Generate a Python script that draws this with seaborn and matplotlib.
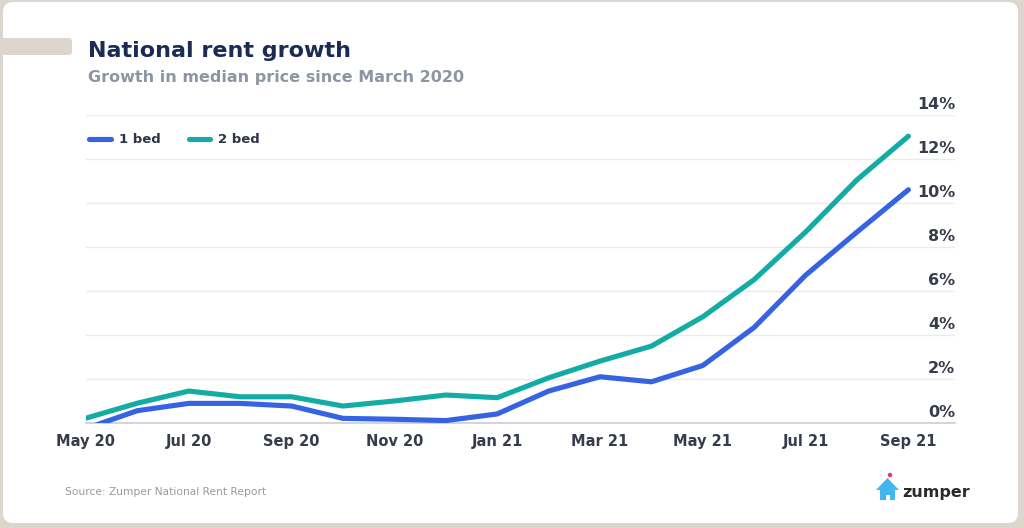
import matplotlib
matplotlib.use("Agg")
import matplotlib.pyplot as plt
import matplotlib.transforms as mtransforms
from matplotlib.patches import FancyBboxPatch, Polygon, Circle, Rectangle
import seaborn as sns
import pandas as pd

# ---- data ----
months = ["May 20", "Jun 20", "Jul 20", "Aug 20", "Sep 20", "Oct 20", "Nov 20", "Dec 20",
          "Jan 21", "Feb 21", "Mar 21", "Apr 21", "May 21", "Jun 21", "Jul 21", "Aug 21", "Sep 21"]
one_bed = [-0.25, 0.56, 0.89, 0.89, 0.77, 0.21, 0.17, 0.11, 0.41, 1.45, 2.10, 1.87, 2.61, 4.34, 6.71, 8.67, 10.59]
two_bed = [0.22, 0.90, 1.45, 1.19, 1.19, 0.77, 1.00, 1.27, 1.15, 2.05, 2.81, 3.49, 4.82, 6.51, 8.67, 11.04, 13.02]
series_names = ["1 bed", "2 bed"]
series_colors = ["#3563e3", "#13aca4"]
y_ticks = [0, 2, 4, 6, 8, 10, 12, 14]

df = pd.DataFrame({
    "month": list(range(len(months))) * 2,
    "growth": one_bed + two_bed,
    "series": [series_names[0]] * len(months) + [series_names[1]] * len(months),
})

sns.set_theme(style="white")
plt.rcParams["font.family"] = ["DejaVu Sans"]

W, H = 1024, 528
fig = plt.figure(figsize=(W / 100, H / 100), dpi=100)
fig.patch.set_facecolor("#ddd6ce")
ident = mtransforms.IdentityTransform()

# white card
card = FancyBboxPatch((3, H - 523), 1015, 521, boxstyle="round,pad=0,rounding_size=10",
                      transform=ident, facecolor="white", edgecolor="none", zorder=-2)
fig.patches.append(card)
# left beige tab
tab = FancyBboxPatch((-10, H - 55), 82, 17, boxstyle="round,pad=0,rounding_size=3",
                     transform=ident, facecolor="#ddd6ce", edgecolor="none", zorder=-1)
fig.patches.append(tab)

ax_l, ax_r, ax_t, ax_b = 86, 955, 114.6, 423
ax = fig.add_axes([ax_l / W, (H - ax_b) / H, (ax_r - ax_l) / W, (ax_b - ax_t) / H])
ax.set_facecolor("none")
ax.set_zorder(2)

sns.lineplot(data=df, x="month", y="growth", hue="series", palette=series_colors,
             hue_order=series_names, linewidth=3.7, ax=ax, legend=True,
             solid_capstyle="round", zorder=3)

ax.set_xlim(0, (ax_r - ax_l) / 51.4)
ax.set_ylim(0, 14)
ax.set_xlabel("")
ax.set_ylabel("")

ax.set_xticks(range(len(months)))
ax.set_xticklabels([m if i % 2 == 0 else "" for i, m in enumerate(months)],
                   fontsize=10.5, color="#363c4a", fontweight="bold")
ax.tick_params(axis="x", direction="out", length=5, width=1, color="#c9cdd3", pad=3)
ax.set_yticks(y_ticks)
ax.tick_params(axis="y", length=0, labelleft=False, labelright=False)
ax.yaxis.grid(True, color="#ebebeb", linewidth=1)
ax.xaxis.grid(False)
for s in ["top", "left", "right"]:
    ax.spines[s].set_visible(False)
ax.spines["bottom"].set_color("#c9cdd3")
ax.spines["bottom"].set_linewidth(1.2)

blend = mtransforms.blended_transform_factory(ax.transAxes, ax.transData)
for v in y_ticks:
    ax.text(1.0, v + 0.12, f"{v}%", transform=blend, ha="right", va="bottom",
            fontsize=11.5, color="#363c4a", fontweight="bold", clip_on=False)

sns.move_legend(ax, loc="center left", bbox_to_anchor=(0.004, 0.918), ncol=2, frameon=False,
                title=None, borderaxespad=0, borderpad=0, handlelength=1.6,
                handletextpad=0.6, columnspacing=2.2, fontsize=9.5)
leg = ax.get_legend()
for t in leg.get_texts():
    t.set_color("#2e3446")
    t.set_fontweight("bold")
for ln in leg.get_lines():
    ln.set_linewidth(3.7)
    ln.set_solid_capstyle("round")

# titles
fig.text(88 / W, (H - 57) / H, "National rent growth", fontsize=16, fontweight="bold",
         color="#1c2b53", va="baseline", ha="left")
fig.text(88 / W, (H - 82) / H, "Growth in median price since March 2020", fontsize=11.5,
         fontweight="bold", color="#8d95a4", va="baseline", ha="left")

# source
fig.text(65 / W, (H - 495) / H, "Source: Zumper National Rent Report", fontsize=7.7,
         color="#9a9a9a", va="baseline", ha="left")

# logo
house = Polygon([(887.5, H - 478), (876, H - 490), (880, H - 490), (880, H - 500),
                 (895, H - 500), (895, H - 490), (899, H - 490)], closed=True,
                transform=ident, facecolor="#43b5ef", edgecolor="none")
fig.patches.append(house)
door = Rectangle((885.5, H - 500), 4, 5, transform=ident, facecolor="white", edgecolor="none")
fig.patches.append(door)
dot = Circle((890, H - 475), 2.2, transform=ident, facecolor="#e8336e", edgecolor="none")
fig.patches.append(dot)
fig.text(902 / W, (H - 497) / H, "zumper", fontsize=11.5, fontweight="bold", color="#2a2a2a",
         va="baseline", ha="left")

fig.savefig("out.png", dpi=100, facecolor=fig.get_facecolor())
